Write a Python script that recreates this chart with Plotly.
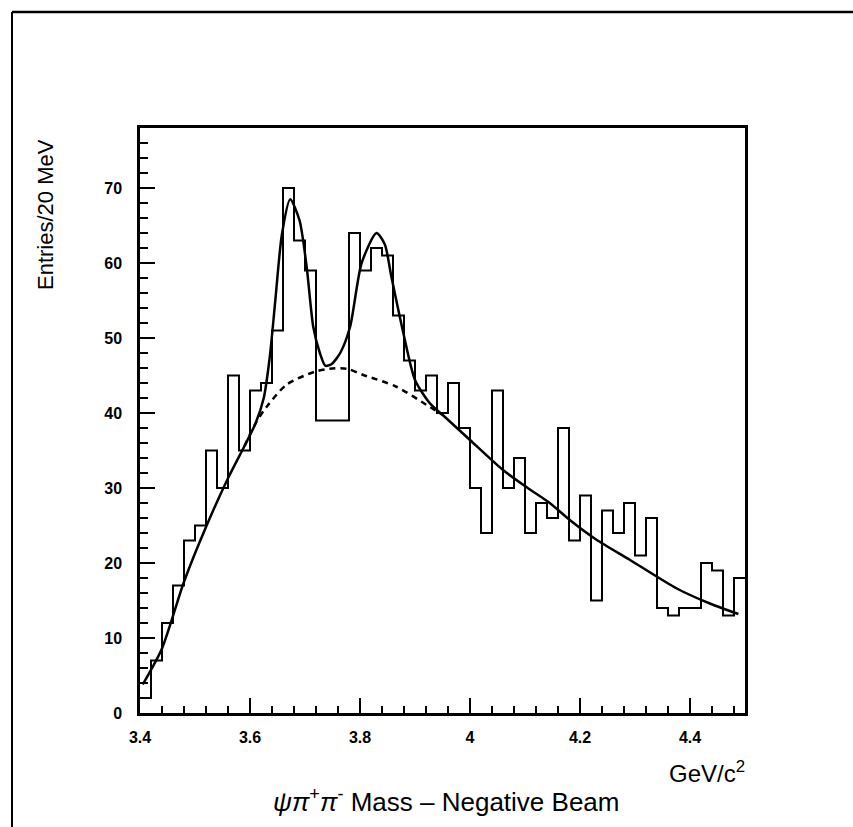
import plotly.graph_objects as go

# ---- data ----
bin_low_edge = 3.40
bin_width = 0.02
counts = [2, 7, 12, 17, 23, 25, 35, 30, 45, 35,
          43, 44, 51, 70, 63, 59, 39, 39, 39, 64,
          59, 62, 61, 53, 47, 43, 45, 40, 44, 38,
          30, 24, 43, 30, 34, 24, 28, 26, 38, 23,
          29, 15, 27, 24, 28, 21, 26, 14, 13, 14,
          14, 20, 19, 13, 18]

fit_x = [3.405, 3.44, 3.48, 3.52, 3.56, 3.59, 3.61, 3.625, 3.636, 3.646,
         3.658, 3.673, 3.69, 3.703, 3.715, 3.727, 3.737, 3.748, 3.764, 3.782,
         3.803, 3.83, 3.845, 3.857, 3.879, 3.90, 3.927, 3.951, 4.0, 4.06,
         4.103, 4.145, 4.182, 4.23, 4.291, 4.376, 4.436, 4.488]
fit_y = [3.8, 8.6, 17.5, 24.8, 31.3, 35.6, 38.6, 42.0, 47.5, 55.0,
         63.8, 68.5, 65.7, 59.5, 51.5, 48.0, 46.3, 46.5, 48.0, 51.5,
         60.0, 64.0, 62.5, 58.2, 50.6, 44.4, 41.3, 39.7, 36.4, 32.4,
         30.1, 28.0, 25.7, 23.1, 20.4, 16.6, 14.6, 13.2]

bkg_x = [3.59, 3.61, 3.63, 3.667, 3.718, 3.744, 3.776, 3.805, 3.866, 3.927, 3.951]
bkg_y = [35.6, 38.6, 40.8, 43.8, 45.5, 45.9, 45.9, 45.1, 43.5, 40.8, 39.7]

x_tick_vals = [3.4, 3.6, 3.8, 4.0, 4.2, 4.4]
x_tick_text = ["3.4", "3.6", "3.8", "4", "4.2", "4.4"]
y_tick_vals = [0, 10, 20, 30, 40, 50, 60, 70]
y_tick_text = ["0", "10", "20", "30", "40", "50", "60", "70"]

# ---- build histogram outline ----
edges = [round(bin_low_edge + i * bin_width, 4) for i in range(len(counts) + 1)]
hx = edges
hy = counts + [counts[-1]]

fig = go.Figure()
fig.add_trace(go.Scatter(x=hx, y=hy, mode="lines", line=dict(shape="hv", color="black", width=2),
                         showlegend=False, hoverinfo="skip"))
fig.add_trace(go.Scatter(x=bkg_x, y=bkg_y, mode="lines",
                         line=dict(shape="spline", smoothing=0.8, color="black", width=2.5, dash="6px,5px"),
                         showlegend=False, hoverinfo="skip"))
fig.add_trace(go.Scatter(x=fit_x, y=fit_y, mode="lines",
                         line=dict(shape="spline", smoothing=0.7, color="black", width=2.5),
                         showlegend=False, hoverinfo="skip"))

L, R, T, B = 140, 108, 128, 114
W, H = 853, 827
pw, ph = W - L - R, H - T - B

def px_to_paper_x(px):
    return (px - L) / pw

def px_to_paper_y(py):
    return (H - B - py) / ph

tick_font = dict(family="Liberation Sans, Arial, sans-serif", size=16, color="black", weight="bold")

fig.update_layout(
    width=W, height=H,
    margin=dict(l=L, r=R, t=T, b=B),
    paper_bgcolor="white", plot_bgcolor="white",
    xaxis=dict(range=[3.4, 4.5], showgrid=False, zeroline=False,
               showline=True, linecolor="black", linewidth=2.5, mirror=True,
               ticks="inside", ticklen=15, tickwidth=1.5, tickcolor="black",
               tickvals=x_tick_vals, ticktext=x_tick_text, tickfont=tick_font,
               ticklabelstandoff=8,
               minor=dict(dtick=0.04, tick0=3.4, ticks="inside", ticklen=7,
                          tickwidth=1.5, tickcolor="black", showgrid=False)),
    yaxis=dict(range=[0, 78], showgrid=False, zeroline=False,
               showline=True, linecolor="black", linewidth=2.5, mirror=True,
               ticks="inside", ticklen=15, tickwidth=2, tickcolor="black",
               tickvals=y_tick_vals, ticktext=y_tick_text, tickfont=tick_font,
               ticklabelstandoff=12,
               minor=dict(dtick=2, tick0=0, ticks="inside", ticklen=8,
                          tickwidth=2, tickcolor="black", showgrid=False)),
)

fam = "Liberation Sans, Arial, sans-serif"

fig.add_annotation(xref="paper", yref="paper", x=px_to_paper_x(45), y=px_to_paper_y(215),
                   text="Entries/20 MeV", textangle=-90, showarrow=False,
                   font=dict(family=fam, size=22, color="black"),
                   xanchor="center", yanchor="middle")
fig.add_annotation(xref="paper", yref="paper", x=px_to_paper_x(747), y=px_to_paper_y(772),
                   text="GeV/c<sup>2</sup>", showarrow=False,
                   font=dict(family=fam, size=24, color="black"),
                   xanchor="right", yanchor="middle")
fig.add_annotation(xref="paper", yref="paper", x=px_to_paper_x(446), y=px_to_paper_y(800),
                   text="<i>ψπ</i><sup>+</sup><i>π</i><sup>-</sup> Mass – Negative Beam",
                   showarrow=False, font=dict(family=fam, size=26, color="black"),
                   xanchor="center", yanchor="middle")

# outer page frame (left and top edges)
fig.add_shape(type="line", xref="paper", yref="paper",
              x0=px_to_paper_x(12), x1=px_to_paper_x(12),
              y0=px_to_paper_y(12), y1=px_to_paper_y(827),
              line=dict(color="black", width=2))
fig.add_shape(type="line", xref="paper", yref="paper",
              x0=px_to_paper_x(12), x1=px_to_paper_x(853),
              y0=px_to_paper_y(12), y1=px_to_paper_y(12),
              line=dict(color="black", width=2.5))

fig.write_html("out.html")
